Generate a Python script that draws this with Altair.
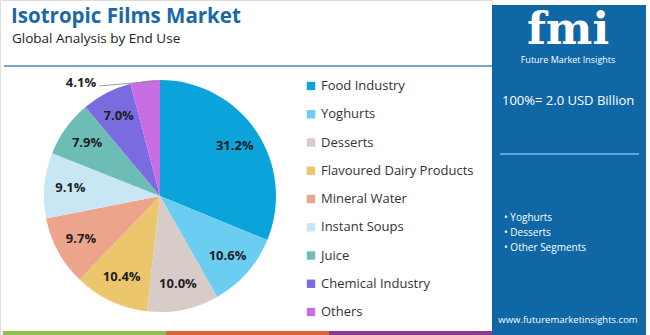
import altair as alt
import pandas as pd

# ---- data ----
segments = ["Food Industry", "Yoghurts", "Desserts", "Flavoured Dairy Products",
            "Mineral Water", "Instant Soups", "Juice", "Chemical Industry", "Others"]
shares = [31.2, 10.6, 10.0, 10.4, 9.7, 9.1, 7.9, 7.0, 4.1]
colors = ["#0aa3da", "#6ccdf2", "#d7ccc8", "#ecc66c", "#eca48c",
          "#c8e6f4", "#6dbdb6", "#7a6ce0", "#c96de3"]
highlights = ["Yoghurts", "Desserts", "Other Segments"]
title_text = "Isotropic Films Market"
subtitle_text = "Global Analysis by End Use"
market_size = "100%= 2.0 USD Billion"
website = "www.futuremarketinsights.com"

# ---- layout / style ----
W, H = 650, 335
CX, CY, R = 160, 196, 116
FONT = "Open Sans"
PANEL = "#0f67a6"

df = pd.DataFrame({"segment": segments, "share": shares, "idx": range(len(segments))})
one = pd.DataFrame({"k": [0]})

theta = alt.Theta("share:Q", stack=True, scale=alt.Scale(range=[0, 6.283185307]))
order = alt.Order("idx:Q")
color = alt.Color("segment:N", scale=alt.Scale(domain=segments, range=colors), legend=None)

base = alt.Chart(df)

pie = base.mark_arc(outerRadius=R).encode(
    theta=theta, order=order, color=color,
    x=alt.value(CX), y=alt.value(CY),
)

labels = base.transform_calculate(
    lab="datum.share >= 5 ? format(datum.share, '.1f') + '%' : ''"
).mark_text(radius=90, font=FONT, fontSize=13, fontWeight="bold", color="#1e1e1e").encode(
    theta=theta, order=order, text="lab:N",
    x=alt.value(CX), y=alt.value(CY),
)

# small-slice outside label with leader line, positioned from the slice angle
small = base.transform_window(
    cum="sum(share)", sort=[alt.SortField("idx")], frame=[None, 0]
).transform_filter("datum.share < 5").transform_calculate(
    mid="((datum.cum - datum.share / 2) / 100) * 2 * PI",
).transform_calculate(
    ex=f"{CX} + {R} * sin(datum.mid) + 12",
    ey=f"{CY} - {R} * cos(datum.mid)",
).transform_calculate(
    lx="datum.ex - 58", ly="datum.ey + 5",
    lab="format(datum.share, '.1f') + '%'",
)
leader = small.mark_rule(color="#888888", strokeWidth=0.8).encode(
    x=alt.X("ex:Q", scale=None), y=alt.Y("ey:Q", scale=None),
    x2="lx:Q", y2="ly:Q",
)
leader_txt = small.mark_text(align="right", baseline="middle", dx=-3, dy=-3, font=FONT,
                             fontSize=13, fontWeight="bold", color="#1e1e1e").encode(
    x=alt.X("lx:Q", scale=None), y=alt.Y("ly:Q", scale=None), text="lab:N",
)

# legend drawn from the same data
leg_y = alt.Y("segment:N", scale=alt.Scale(type="point", domain=segments, range=[86, 312],
                                           padding=0), axis=None)
leg_sq = base.mark_square(size=70, opacity=1).encode(x=alt.value(311), y=leg_y, color=color)
leg_tx = base.mark_text(align="left", baseline="middle", font=FONT, fontSize=13,
                        color="#333333").encode(x=alt.value(321), y=leg_y, text="segment:N")

# titles
title = alt.Chart(one).mark_text(align="left", baseline="alphabetic", font=FONT, fontSize=20.5,
                                 fontWeight="bold", color="#1a68a6").encode(
    x=alt.value(11), y=alt.value(23), text=alt.value(title_text))
subtitle = alt.Chart(one).mark_text(align="left", baseline="alphabetic", font=FONT, fontSize=13.5,
                                    color="#222222").encode(
    x=alt.value(12), y=alt.value(43), text=alt.value(subtitle_text))

# frame lines
top_line = alt.Chart(one).mark_rule(color="#4a86b5", strokeWidth=1.5).encode(
    x=alt.value(4), x2=alt.value(492), y=alt.value(66))
stripe_df = pd.DataFrame({"c": ["#8dc04c", "#e0643a", "#8b3a93"], "i": [0, 1, 2]})
stripes = alt.Chart(stripe_df).transform_calculate(
    a="3 + datum.i * 163", b="3 + (datum.i + 1) * 163"
).mark_rect().encode(
    x=alt.X("a:Q", scale=None), x2="b:Q", y=alt.value(331), y2=alt.value(335),
    color=alt.Color("c:N", scale=None),
)
border = alt.Chart(one).mark_rect(fill=None, stroke="#dddddd", strokeWidth=1).encode(
    x=alt.value(0.5), x2=alt.value(493), y=alt.value(0.5), y2=alt.value(335))

# right panel
panel = alt.Chart(one).mark_rect(color=PANEL).encode(
    x=alt.value(492), x2=alt.value(646), y=alt.value(5), y2=alt.value(335))
logo = alt.Chart(one).mark_text(align="center", baseline="alphabetic", font="DejaVu Serif",
                                fontSize=44, fontWeight="bold", color="white").encode(
    x=alt.value(568), y=alt.value(44), text=alt.value("fmi"))
logo_sub = alt.Chart(one).mark_text(align="center", baseline="alphabetic", font=FONT,
                                    fontSize=9, color="white").encode(
    x=alt.value(568), y=alt.value(63), text=alt.value("Future Market Insights"))
size_txt = alt.Chart(one).mark_text(align="left", baseline="middle", font=FONT,
                                    fontSize=13, color="white").encode(
    x=alt.value(502), y=alt.value(101), text=alt.value(market_size))
sep = alt.Chart(one).mark_rule(color="#7fb8e0", strokeWidth=1.5).encode(
    x=alt.value(500), x2=alt.value(639), y=alt.value(154))
hl_df = pd.DataFrame({"t": ["• " + h for h in highlights], "j": range(len(highlights))})
hl = alt.Chart(hl_df).mark_text(align="left", baseline="middle", font=FONT, fontSize=10,
                                color="white").encode(
    x=alt.value(504),
    y=alt.Y("j:O", scale=alt.Scale(type="point", range=[218, 248], padding=0), axis=None),
    text="t:N")
url = alt.Chart(one).mark_text(align="center", baseline="middle", font=FONT, fontSize=9.5,
                               color="white").encode(
    x=alt.value(568), y=alt.value(320), text=alt.value(website))

chart = alt.layer(
    border, top_line, stripes, pie, labels, leader, leader_txt, leg_sq, leg_tx,
    title, subtitle, panel, logo, logo_sub, size_txt, sep, hl, url,
).resolve_scale(
    x="independent", y="independent", color="independent", theta="independent"
).properties(
    width=W, height=H, padding=0, autosize=alt.AutoSizeParams(type="none"),
    background="white",
).configure_view(stroke=None)

chart.save("out.html", embed_options={"renderer": "svg", "actions": False})
